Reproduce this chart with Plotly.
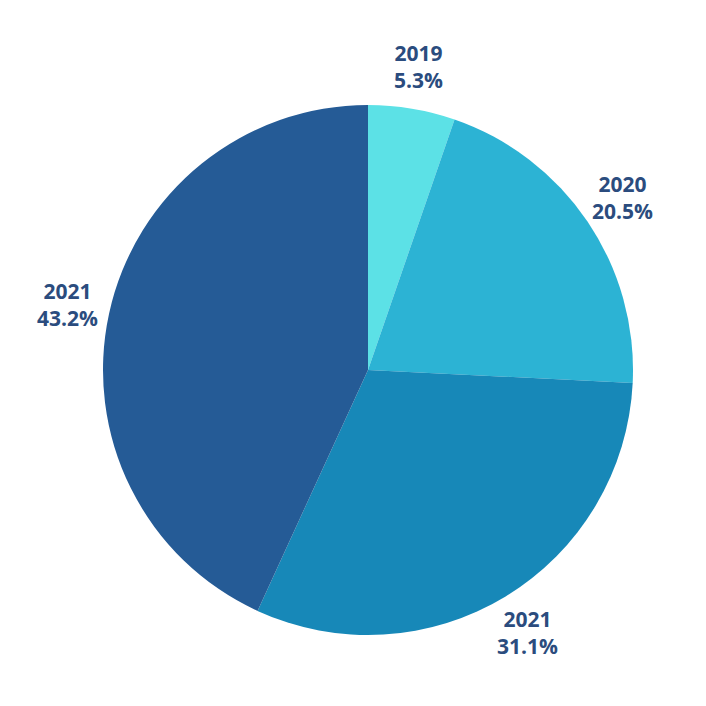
import math
import plotly.graph_objects as go

YEARS = ["2019", "2020", "2021", "2021"]
SHARES = [5.3, 20.5, 31.1, 43.2]
COLORS = ["#5CE1E6", "#2CB3D4", "#1788B8", "#255B96"]
TEXT_COLOR = "#2B4C7E"

slice_ids = [f"{y}_{i}" for i, y in enumerate(YEARS)]

fig = go.Figure(
    go.Pie(
        labels=slice_ids,
        values=SHARES,
        textinfo="none",
        sort=False,
        direction="clockwise",
        rotation=0,
        marker=dict(colors=COLORS, line=dict(width=0)),
        showlegend=False,
        hoverinfo="skip",
    )
)

# labels sit outside the pie, centred on each slice's mid angle
total = sum(SHARES)
cum = 0
for year, share in zip(YEARS, SHARES):
    mid = (cum + share / 2) / total * 2 * math.pi
    cum += share
    fig.add_annotation(
        x=0.5 + 0.58 * math.sin(mid),
        y=0.5 + 0.58 * math.cos(mid),
        xref="paper",
        yref="paper",
        text=f"{year}<br>{share:.1f}%",
        showarrow=False,
        font=dict(family="Open Sans", size=21, color=TEXT_COLOR, weight="bold"),
        xanchor="center",
        yanchor="middle",
    )

fig.update_layout(
    width=706,
    height=706,
    margin=dict(l=95, r=81, t=97, b=79),
    paper_bgcolor="white",
    plot_bgcolor="white",
)
fig.write_html("out.html")
